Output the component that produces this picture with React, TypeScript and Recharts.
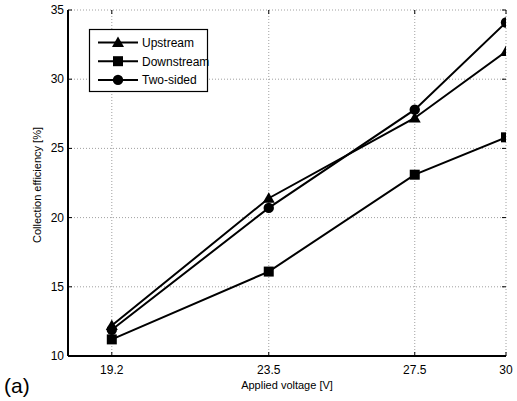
import React from "react";
import { LineChart, Line, XAxis, YAxis, CartesianGrid, Legend, Customized } from "recharts";

const voltages = [19.2, 23.5, 27.5, 30];
const upstream = [12.2, 21.4, 27.2, 32.0];
const downstream = [11.2, 16.1, 23.1, 25.8];
const twoSided = [11.9, 20.7, 27.8, 34.1];
const xTicks = [19.2, 23.5, 27.5, 30];
const yTicks = [10, 15, 20, 25, 30, 35];
const seriesNames = ["Upstream", "Downstream", "Two-sided"];

const data = voltages.map((v, i) => ({
  v,
  Upstream: upstream[i],
  Downstream: downstream[i],
  "Two-sided": twoSided[i],
}));

const FONT = "Arial, 'Liberation Sans', sans-serif";

const Tri = (props: any) => {
  const { cx, cy } = props;
  if (cx == null || cy == null) return null;
  return <path d={`M${cx},${cy - 6} L${cx + 6},${cy + 4.5} L${cx - 6},${cy + 4.5} Z`} fill="#000" />;
};
const Sq = (props: any) => {
  const { cx, cy } = props;
  if (cx == null || cy == null) return null;
  return <rect x={cx - 5} y={cy - 5} width={10} height={10} fill="#000" />;
};
const Circ = (props: any) => {
  const { cx, cy } = props;
  if (cx == null || cy == null) return null;
  return <circle cx={cx} cy={cy} r={5.2} fill="#000" />;
};

const PLOT = { left: 68, right: 506, top: 10, bottom: 356 };

const XTick = (props: any) => {
  const { x, payload } = props;
  return (
    <g>
      <line x1={x} x2={x} y1={PLOT.bottom} y2={PLOT.bottom - 4} stroke="#000" />
      <line x1={x} x2={x} y1={PLOT.top} y2={PLOT.top + 4} stroke="#000" />
      <text x={x} y={PLOT.bottom + 18} textAnchor="middle" fontSize={12} fontFamily={FONT} fill="#000">
        {payload.value}
      </text>
    </g>
  );
};
const YTick = (props: any) => {
  const { y, payload } = props;
  return (
    <g>
      <line x1={PLOT.left} x2={PLOT.left + 4} y1={y} y2={y} stroke="#000" />
      <line x1={PLOT.right} x2={PLOT.right - 4} y1={y} y2={y} stroke="#000" />
      <text x={PLOT.left - 4} y={y + 4} textAnchor="end" fontSize={12} fontFamily={FONT} fill="#000">
        {payload.value}
      </text>
    </g>
  );
};

const markerFor = (name: string, cx: number, cy: number) => {
  if (name === "Upstream") return <Tri cx={cx} cy={cy} />;
  if (name === "Downstream") return <Sq cx={cx} cy={cy} />;
  return <Circ cx={cx} cy={cy} />;
};

const LegendContent = () => (
  <svg width={122} height={63} style={{ display: "block", overflow: "visible" }}>
    <rect x={0.5} y={0.5} width={118} height={62} fill="#fff" stroke="#000" strokeWidth={1.2} />
    {seriesNames.map((n, i) => {
      const cy = 13.5 + i * 18.7;
      return (
        <g key={n}>
          <line x1={9} x2={49} y1={cy} y2={cy} stroke="#000" strokeWidth={2} />
          {markerFor(n, 29, cy)}
          <text x={53} y={cy + 4.5} fontSize={12} fontFamily={FONT} fill="#000">
            {n}
          </text>
        </g>
      );
    })}
  </svg>
);

const Labels = () => (
  <g>
    <text x={287} y={389} textAnchor="middle" fontSize={11} fontFamily={FONT} fill="#000">
      Applied voltage [V]
    </text>
    <text
      x={41}
      y={185}
      textAnchor="middle"
      fontSize={11}
      fontFamily={FONT}
      fill="#000"
      transform="rotate(-90, 41, 185)"
    >
      Collection efficiency [%]
    </text>
    <text x={4} y={393} fontSize={21} fontFamily={FONT} fill="#000">
      (a)
    </text>
  </g>
);

export default function App() {
  return (
    <div style={{ position: "absolute", left: 0, top: 0, background: "#fff" }}>
      <LineChart
        width={517}
        height={401}
        data={data}
        margin={{ top: 10, right: 11, left: 28, bottom: 15 }}
      >
        <CartesianGrid stroke="#888" strokeDasharray="1 2" strokeWidth={0.8} />
        <XAxis
          dataKey="v"
          type="number"
          domain={[18, 30]}
          ticks={xTicks}
          tick={<XTick />}
          tickLine={false}
          stroke="#000"
          strokeWidth={2}
          height={30}
          allowDataOverflow
        />
        <XAxis
          xAxisId="top"
          orientation="top"
          dataKey="v"
          type="number"
          domain={[18, 30]}
          ticks={xTicks}
          tick={false}
          tickLine={false}
          stroke="#000"
          strokeWidth={2}
          height={0}
          allowDataOverflow
        />
        <YAxis
          type="number"
          domain={[10, 35]}
          ticks={yTicks}
          tick={<YTick />}
          tickLine={false}
          stroke="#000"
          strokeWidth={2}
          width={40}
          allowDataOverflow
        />
        <YAxis
          yAxisId="right"
          orientation="right"
          type="number"
          domain={[10, 35]}
          ticks={yTicks}
          tick={false}
          tickLine={false}
          stroke="#000"
          strokeWidth={2}
          width={0}
          allowDataOverflow
        />
        <Legend
          layout="vertical"
          align="center"
          verticalAlign="middle"
          content={<LegendContent />}
          wrapperStyle={{ position: "absolute", left: 89, top: 29, width: 122, height: 63 }}
        />
        <Line dataKey="Upstream" stroke="#000" strokeWidth={2} dot={<Tri />} isAnimationActive={false} />
        <Line dataKey="Downstream" stroke="#000" strokeWidth={2} dot={<Sq />} isAnimationActive={false} />
        <Line dataKey="Two-sided" stroke="#000" strokeWidth={2} dot={<Circ />} isAnimationActive={false} />
        <Customized component={<Labels />} />
      </LineChart>
    </div>
  );
}
